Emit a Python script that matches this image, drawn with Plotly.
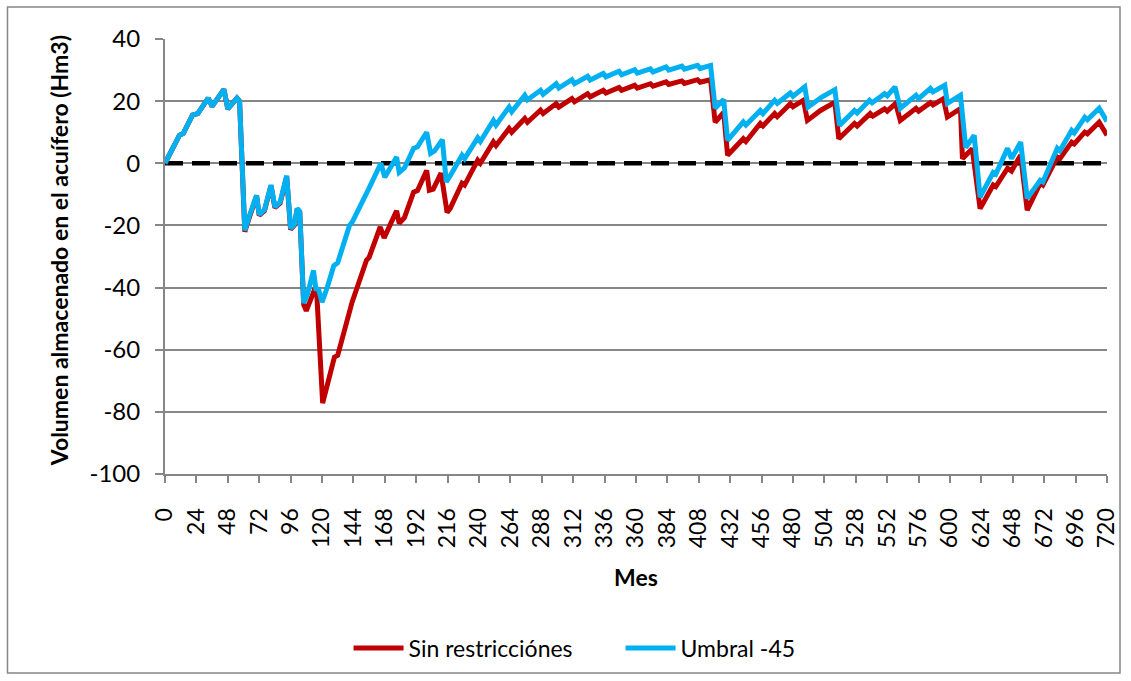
import plotly.graph_objects as go

# ---- data ----
months_sin = [0, 11, 14, 21, 25, 33, 36, 45, 48, 55, 57,
              61, 64, 70, 72, 76, 81, 84, 88, 93, 96, 99, 101, 103,
              106, 108, 114, 116, 120.5, 125, 129.5, 132, 141, 143, 154, 156, 164.5, 167.5,
              177, 179, 183, 190, 193, 200, 202, 205, 211, 215.6, 218, 227, 229, 239, 241,
              251, 253, 263, 265, 275, 277, 287, 289, 299, 301, 311, 313, 323, 325, 335, 337,
              347, 349, 359, 361, 371, 373, 383, 385, 395, 397, 407, 409, 417,
              420.5, 427, 430, 442, 444, 455, 457, 466, 468, 478, 480, 488, 491, 501, 512, 515,
              527, 529, 539, 541, 550, 552, 558.5, 562, 574, 576, 585, 587, 595, 598, 608, 609.5,
              617, 623, 633, 635, 644, 647, 654, 659, 669, 671, 682, 684, 693, 695, 703, 705, 714, 720]
vol_sin = [0, 9, 9.6, 15.5, 16, 21, 18.3, 23.8, 17.5, 21, 20,
           -22, -18, -10.5, -16.8, -15.3, -7.3, -14.3, -12.8, -4.3, -21.3, -19.8, -14.8, -15.8,
           -45.5, -47.5, -41, -42, -77.2, -69.5, -62.4, -61.8, -46.8, -44.7, -31.2, -30.3, -20.5, -24,
           -15.3, -19.3, -17.5, -9.3, -8.8, -2.3, -8.7, -8.3, -3.2, -15.8, -14.5, -6.4, -7, 1, 0,
           6.9, 5.7, 11.2, 10, 14.4, 13.2, 17.1, 16, 19.2, 18.1, 20.8, 19.8, 22.4, 21.4, 23.5, 22.6,
           24.4, 23.5, 25.1, 24.2, 25.6, 24.8, 26.2, 25.4, 26.5, 25.7, 26.9, 26.1, 26.9,
           13.2, 16.4, 2.6, 7.9, 7, 12.8, 12, 16, 15, 19.2, 18.2, 20.3, 13.8, 17, 19.6, 7.9,
           12.8, 12, 16, 15.2, 17.5, 16.8, 19.3, 13.8, 17.7, 16.8, 19.5, 18.8, 20.8, 14.9, 17.6, 1.5,
           4.7, -14.6, -7, -7.5, -1.6, -2.5, 2.6, -15.1, -6.4, -7, 2, 1.5, 6.8, 6.2, 10, 9.5, 13.2, 9]

months_umb = [0, 11, 14, 21, 25, 33, 36, 45, 48, 55, 57,
              61, 64, 70, 72, 76, 81, 84, 88, 93, 96, 99, 101, 103,
              106, 109, 113.5, 115.5, 117, 120, 124, 129, 132, 141, 143, 154, 156, 165, 168,
              177, 179, 183, 190, 193, 200, 203, 206, 212, 215, 218, 227, 229, 239, 241,
              251, 253, 263, 265, 275, 277, 287, 289, 299, 301, 311, 313, 323, 325, 335, 337,
              347, 349, 359, 361, 371, 373, 383, 385, 395, 397, 407, 409, 417,
              420.5, 427, 430, 442, 444, 455, 457, 466, 468, 478, 480, 489, 491.5, 502, 512, 515.5,
              527, 529, 538.5, 540.5, 550, 552, 558, 562, 574, 576, 585, 587, 596, 598, 608, 612,
              618.5, 623, 633, 635, 644, 647, 654, 659, 669, 671, 682, 684, 693, 695, 703, 705, 714, 720]
vol_umb = [0, 9, 9.6, 15.5, 16, 21, 18.3, 23.8, 17.5, 21, 20,
           -21.6, -17.5, -10.3, -16.5, -15, -7, -14, -12.5, -4, -21, -19.5, -14.5, -15.5,
           -45, -42, -34.5, -41, -40, -44.7, -40, -33, -32, -20, -19, -9, -8, 0, -4.5,
           2, -2.9, -1.5, 4.8, 5.3, 10, 3.2, 4, 7.6, -6, -4, 2.6, 1.5, 8.2, 7,
           13.8, 12.3, 18.1, 16.6, 21.9, 20.4, 23.5, 22.2, 25.6, 24.2, 26.9, 25.6, 28, 26.8, 28.9, 27.8,
           29.6, 28.5, 30.1, 29, 30.4, 29.4, 31, 30, 31.3, 30.3, 31.5, 30.5, 31.5,
           17.7, 20.5, 7.4, 13.3, 12.3, 17, 16, 20.3, 19.3, 22.6, 21.6, 24.6, 18.1, 21.3, 23.7, 12.2,
           17, 16.2, 20.3, 19.5, 22.4, 21.7, 24.6, 17.7, 21.9, 20.8, 24.1, 23, 25.1, 19.3, 21.9, 5.1,
           9, -10.9, -3, -3.5, 4.8, 1.5, 6.8, -11.3, -5.5, -6, 4.8, 4, 10.6, 9.8, 14.8, 14, 17.7, 13.5]

ref_months = [0, 720]
ref_values = [0, 0]

x_ticks = list(range(0, 721, 24))
y_ticks = [-100, -80, -60, -40, -20, 0, 20, 40]
y_ticktext = ["-100", "-80", "-60", "-40", "-20", "0", "20", "40"]

series_names = ["Sin restricciónes", "Umbral -45"]
colors = ["#C00000", "#00B0F0"]

FONT = "Lato"
GRID = "#868686"

fig = go.Figure()
fig.add_trace(go.Scatter(x=ref_months, y=ref_values, mode="lines",
                         line=dict(color="black", width=4.5, dash="18px,9px"),
                         showlegend=False, hoverinfo="skip"))
fig.add_trace(go.Scatter(x=months_sin, y=vol_sin, mode="lines", name=series_names[0],
                         line=dict(color=colors[0], width=5)))
fig.add_trace(go.Scatter(x=months_umb, y=vol_umb, mode="lines", name=series_names[1],
                         line=dict(color=colors[1], width=5)))

fig.update_layout(
    width=1131, height=681,
    margin=dict(l=165, r=21, t=39, b=207),
    paper_bgcolor="white", plot_bgcolor="white",
    font=dict(family=FONT, size=20, color="black"),
    showlegend=True,
    legend=dict(orientation="h", x=0.4836, y=-0.40, xanchor="center", yanchor="middle",
                font=dict(family=FONT, size=23), bgcolor="rgba(0,0,0,0)", itemwidth=50,
                entrywidth=207),
    xaxis=dict(range=[0, 720], tickmode="array", tickvals=x_ticks,
               ticktext=[str(v) for v in x_ticks], tickangle=-90,
               showgrid=False, zeroline=False, showline=True, linecolor=GRID, linewidth=2,
               ticks="outside", ticklen=7, tickcolor=GRID, tickwidth=1.5,
               tickfont=dict(family=FONT, size=23), ticklabelstandoff=16),
    yaxis=dict(range=[-100, 40], tickmode="array", tickvals=y_ticks, ticktext=y_ticktext,
               showgrid=True, gridcolor=GRID, gridwidth=2, zeroline=False,
               showline=True, linecolor=GRID, linewidth=2,
               ticks="outside", ticklen=8, tickcolor=GRID, tickwidth=1.5,
               tickfont=dict(family=FONT, size=24), ticklabelstandoff=10),
    annotations=[
        dict(text="<b>Mes</b>", xref="paper", yref="paper", x=0.4995, y=-0.2368,
             showarrow=False, font=dict(family=FONT, size=23), xanchor="center", yanchor="middle"),
        dict(text="<b>Volumen almacenado en el acuífero (Hm3)</b>", xref="paper", yref="paper",
             x=-0.1132, y=0.513, textangle=-90, showarrow=False,
             font=dict(family=FONT, size=23), xanchor="center", yanchor="middle"),
    ],
    shapes=[dict(type="rect", xref="paper", yref="paper", x0=-0.1672, x1=1.0138,
                 y0=-0.4575, y1=1.0736, line=dict(color=GRID, width=1.5), layer="below")],
)

fig.write_html("out.html", config={"displayModeBar": False},
               post_script="document.body.style.margin='0';")
